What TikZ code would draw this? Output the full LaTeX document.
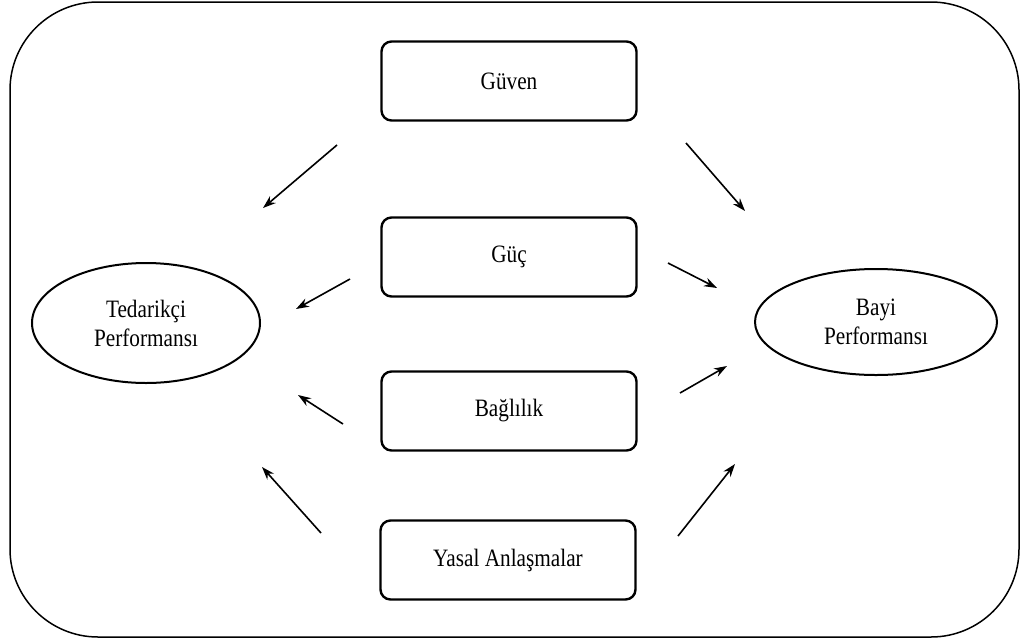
\documentclass[tikz,border=0pt]{standalone}
\usepackage{fontspec}
\setmainfont{Liberation Serif}[FakeStretch=0.85]
\usetikzlibrary{shapes.geometric,arrows.meta}
\begin{document}
\begin{tikzpicture}[x=1pt,y=-1pt,
  factor/.style={draw,line width=2.4pt,rounded corners=10pt,minimum width=255pt,minimum height=79pt,inner sep=0pt,font=\fontsize{25}{29}\selectfont},
  perf/.style={draw,ellipse,line width=2pt,inner sep=0pt,align=center,font=\fontsize{25}{29}\selectfont},
  arr/.style={line width=1.6pt,-{Stealth[length=13pt,width=9pt]}}]
\useasboundingbox (0,0) rectangle (1022,643);
\draw[line width=1.5pt,rounded corners=88pt] (10,2) rectangle (1019,637);
\node[factor] (guven) at (509,81) {Güven};
\node[factor] (guc) at (509,257) {Güç};
\node[factor] (bag) at (509,411) {Bağlılık};
\node[factor] (yasal) at (508,560) {Yasal Anlaşmalar};
\node[perf,minimum width=228pt,minimum height=120pt] (ted) at (146,323) {Tedarikçi\\Performansı};
\node[perf,minimum width=242pt,minimum height=106pt] (bayi) at (876,322) {Bayi\\Performansı};
\coordinate (a1s) at (337,145); \coordinate (a1e) at (263,208);
\coordinate (a2s) at (350,279); \coordinate (a2e) at (296,309);
\coordinate (a3s) at (343,424); \coordinate (a3e) at (298,395);
\coordinate (a4s) at (321,533); \coordinate (a4e) at (262,467);
\coordinate (b1s) at (686,143); \coordinate (b1e) at (745,211);
\coordinate (b2s) at (668,263); \coordinate (b2e) at (717,288);
\coordinate (b3s) at (680,393); \coordinate (b3e) at (727,366);
\coordinate (b4s) at (678,536); \coordinate (b4e) at (735,464);
\draw[arr] (a1s) -- (a1e);
\draw[arr] (a2s) -- (a2e);
\draw[arr] (a3s) -- (a3e);
\draw[arr] (a4s) -- (a4e);
\draw[arr] (b1s) -- (b1e);
\draw[arr] (b2s) -- (b2e);
\draw[arr] (b3s) -- (b3e);
\draw[arr] (b4s) -- (b4e);
\end{tikzpicture}
\end{document}
